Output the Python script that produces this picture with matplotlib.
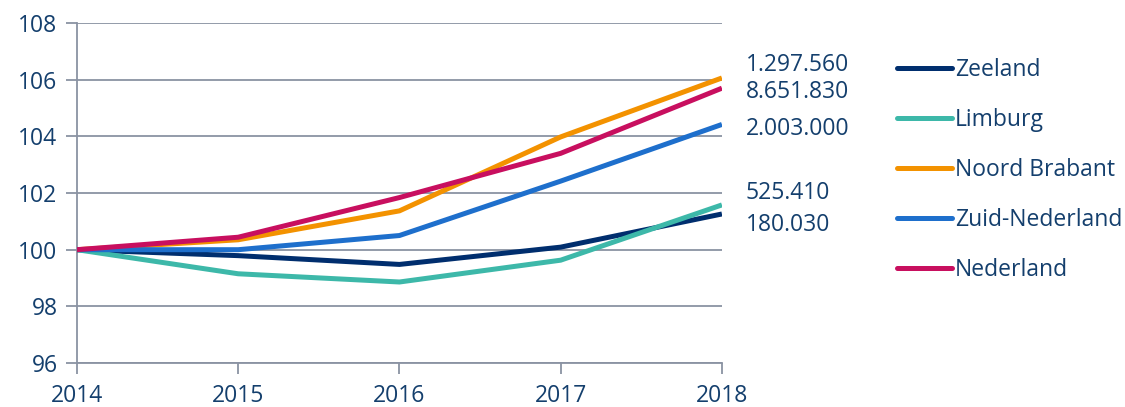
import matplotlib.pyplot as plt

years = [2014, 2015, 2016, 2017, 2018]
zeeland = [100, 99.79, 99.48, 100.09, 101.26]
limburg = [100, 99.15, 98.86, 99.63, 101.58]
noord_brabant = [100, 100.35, 101.37, 103.98, 106.06]
zuid_nederland = [100, 100.0, 100.5, 102.42, 104.42]
nederland = [100, 100.44, 101.84, 103.4, 105.7]

names = ['Zeeland', 'Limburg', 'Noord Brabant', 'Zuid-Nederland', 'Nederland']
colors = ['#002E6E', '#3DB8A9', '#F39200', '#1E6FCC', '#C80F5F']
end_labels = ['180.030', '525.410', '1.297.560', '2.003.000', '8.651.830']
label_y = [100.87, 102.0, 106.53, 104.27, 105.58]  # spread so they don't collide

txt = '#143F6D'
grid = '#8A93A3'
plt.rcParams['font.family'] = ['Open Sans', 'DejaVu Sans']
fs = 16.5

fig = plt.figure(figsize=(11.25, 4.07), dpi=100)
ax = fig.add_axes([0.0684, 0.108, 0.5733, 0.8355])

series = [zeeland, limburg, noord_brabant, zuid_nederland, nederland]
for vals, name, c in zip(series, names, colors):
    ax.plot(years, vals, color=c, lw=3.6, label=name, solid_capstyle='butt', zorder=3)

# population numbers next to the 2018 end points
for lab, y in zip(end_labels, label_y):
    ax.annotate(lab, xy=(2018, y), xytext=(17, 0), textcoords='offset points',
                ha='left', va='center', fontsize=fs, color=txt, annotation_clip=False)

ax.set_xlim(2014, 2018)
ax.set_ylim(96, 108)
ax.set_xticks(years)
ax.set_yticks(range(96, 109, 2))
ax.yaxis.grid(True, color=grid, lw=1.3)
ax.set_axisbelow(True)
for s in ['top', 'right']:
    ax.spines[s].set_visible(False)
for s in ['left', 'bottom']:
    ax.spines[s].set_color(grid)
    ax.spines[s].set_linewidth(1.3)
ax.tick_params(axis='both', colors=grid, width=1.3, length=8, labelsize=fs, labelcolor=txt)
ax.tick_params(axis='x', pad=7)
ax.tick_params(axis='y', pad=6)

leg = ax.legend(loc='upper left', bbox_to_anchor=(1.271, 0.897), frameon=False,
                fontsize=fs, handlelength=2.4, handletextpad=0.15, labelspacing=1.13,
                borderpad=0, borderaxespad=0)
for t in leg.get_texts():
    t.set_color(txt)
for h in leg.get_lines():
    h.set_solid_capstyle('round')

fig.savefig('out.png', dpi=100)
